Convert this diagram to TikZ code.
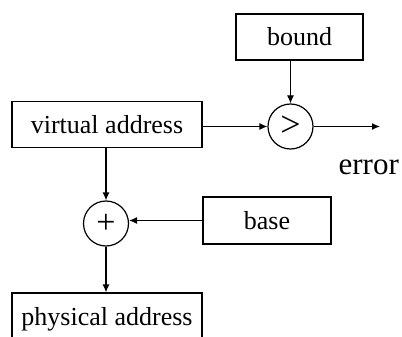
\documentclass[tikz,border=0pt]{standalone}
\usepackage{fontspec}
\setmainfont{Liberation Serif}
\usetikzlibrary{arrows.meta}
\begin{document}
\begin{tikzpicture}[x=1pt, y=-1pt, line width=1.2pt,
  box/.style={draw, rectangle, inner sep=0pt, font=\fontsize{26}{30}\selectfont},
  op/.style={draw, circle, minimum size=45pt, inner sep=0pt},
  arr/.style={-{Latex[length=8pt,width=7pt]}}]
  \useasboundingbox (0,0) rectangle (402,337);
  \clip (0,0) rectangle (402,337);
  % boxes
  \node[box, minimum width=127pt, minimum height=46pt] (bound) at (299.5,37) {bound};
  \node[box, minimum width=190pt, minimum height=46pt] (va) at (107,124.5) {virtual address};
  \node[box, minimum width=128pt, minimum height=47pt] (base) at (267,220.5) {base};
  \node[box, minimum width=190pt, minimum height=52pt] (pa) at (107,319) {physical address};
  % operators
  \node[op, font=\fontsize{36}{40}\selectfont] (gt) at (290.5,126.5) {>};
  \node[op, font=\fontsize{34}{38}\selectfont] (plus) at (106,223.5) {+};
  % output label
  \node[anchor=base west, inner sep=0pt, font=\fontsize{31}{36}\selectfont] (err) at (338,175) {error};
  \coordinate (out) at (380,126.5);
  % connectors
  \draw[arr] (bound.south -| gt.north) -- (gt.north);
  \draw[arr] (va.east |- gt.west) -- (gt.west);
  \draw[arr] (gt.east) -- (out);
  \draw[arr] (va.south -| plus.north) -- (plus.north);
  \draw[arr] (base.west) -- (base.west -| plus.east);
  \draw[arr] (plus.south) -- (plus.south |- pa.north);
\end{tikzpicture}
\end{document}
